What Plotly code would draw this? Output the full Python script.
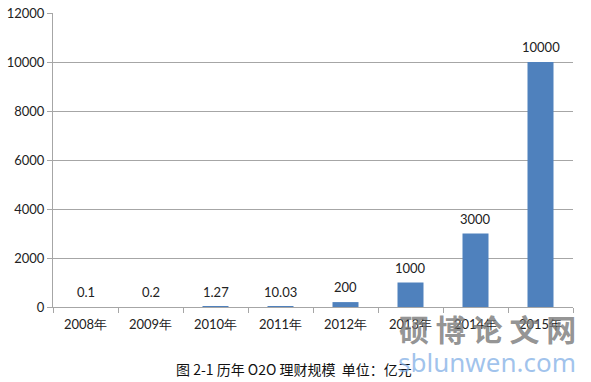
import plotly.graph_objects as go

categories = ["2008年", "2009年", "2010年", "2011年", "2012年", "2013年", "2014年", "2015年"]
values = [0.1, 0.2, 1.27, 10.03, 200, 1000, 3000, 10000]
value_labels = ["0.1", "0.2", "1.27", "10.03", "200", "1000", "3000", "10000"]
y_ticks = [0, 2000, 4000, 6000, 8000, 10000, 12000]
caption = "图 2-1 历年 O2O 理财规模  单位：亿元"

FONT = "Lato, Carlito, 'Noto Sans', sans-serif"

fig = go.Figure()
fig.add_trace(go.Bar(
    x=categories, y=values,
    marker=dict(color="#4f81bd", line=dict(width=0)),
    hoverinfo="skip",
))

for c, v, t in zip(categories, values, value_labels):
    fig.add_annotation(x=c, y=v, text=t, showarrow=False, yanchor="bottom",
                       yshift=5, font=dict(family=FONT, size=13, color="#222222"))

fig.add_annotation(xref="paper", yref="paper", x=0.463, y=-0.211, text=caption,
                   showarrow=False, xanchor="center", yanchor="middle",
                   font=dict(family="'Noto Sans CJK SC', sans-serif", size=14, color="#111111"))

# watermark
fig.add_annotation(xref="paper", yref="paper", x=0.835, y=-0.071, text="<b>硕 博 论 文 网</b>",
                   showarrow=False, xanchor="center", yanchor="middle",
                   font=dict(family="'Noto Sans CJK SC', sans-serif", size=30, color="rgba(120,120,120,0.8)"))
fig.add_annotation(xref="paper", yref="paper", x=0.835, y=-0.187, text="sblunwen.com",
                   showarrow=False, xanchor="center", yanchor="middle",
                   font=dict(family="'Noto Sans', sans-serif", size=26, color="rgba(130,175,230,0.75)"))

fig.update_layout(
    width=591, height=382,
    margin=dict(l=53, r=18, t=13, b=75, autoexpand=False),
    paper_bgcolor="white", plot_bgcolor="white",
    showlegend=False,
    bargap=0.6,
    font=dict(family=FONT, size=13, color="#222222"),
    xaxis=dict(
        type="category", showline=True, linecolor="#a6a6a6", linewidth=1,
        ticks="outside", tickson="boundaries", ticklen=5, tickcolor="#a6a6a6",
        showgrid=False, automargin=False, ticklabelstandoff=5,
        tickfont=dict(family=FONT, size=13, color="#222222"),
    ),
    yaxis=dict(
        range=[0, 12000], tickvals=y_ticks, ticktext=[str(v) for v in y_ticks],
        showline=True, linecolor="#a6a6a6", linewidth=1,
        ticks="outside", ticklen=5, tickcolor="#a6a6a6", automargin=False,
        showgrid=True, gridcolor="#a6a6a6", gridwidth=1, zeroline=False,
        tickfont=dict(family=FONT, size=13, color="#222222"),
    ),
)

fig.write_html("out.html", config={"displayModeBar": False})
with open("out.html", encoding="utf-8") as f:
    html = f.read()
html = html.replace("<body>", '<body style="margin:0;padding:0;overflow:hidden">', 1)
with open("out.html", "w", encoding="utf-8") as f:
    f.write(html)
